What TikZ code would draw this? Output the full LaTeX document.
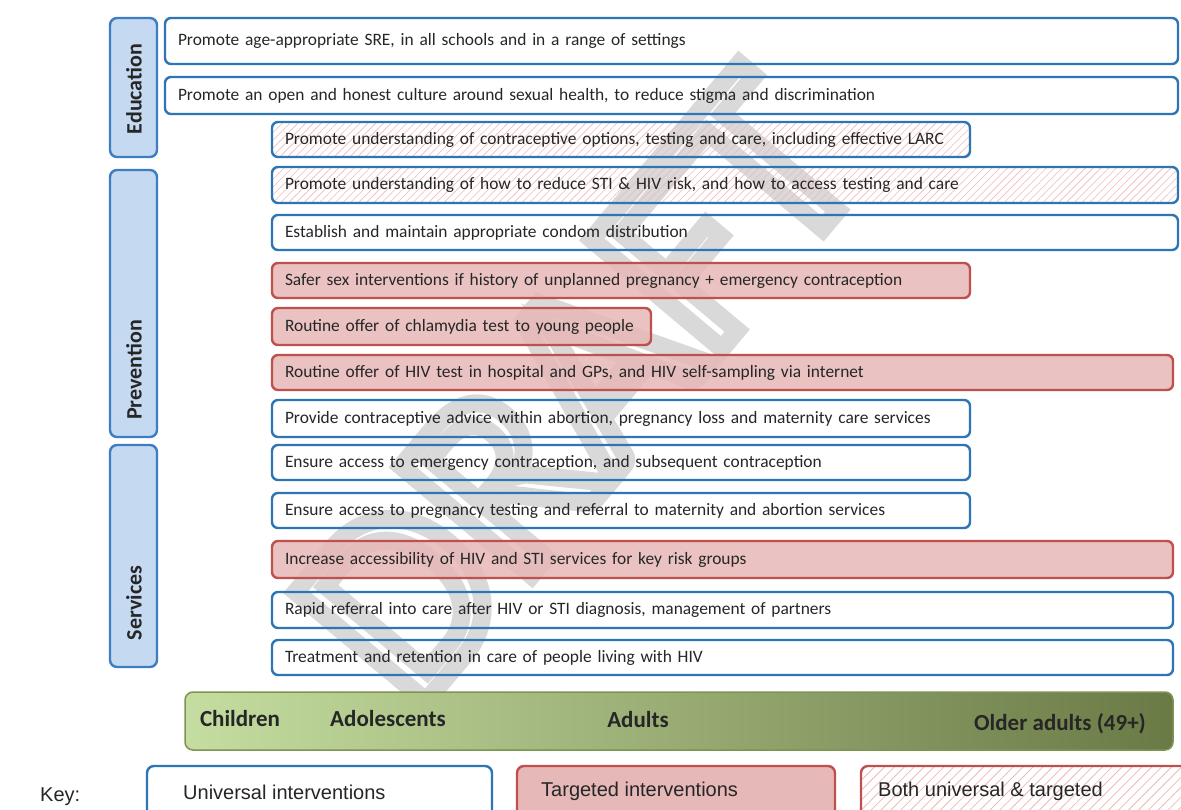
\documentclass[tikz,border=0pt]{standalone}
\usepackage{fontspec}
\setmainfont{Carlito}
\newfontfamily\arialfont{Liberation Sans}
\usetikzlibrary{patterns.meta}

\definecolor{ublue}{RGB}{46,117,182}
\definecolor{tred}{RGB}{192,80,77}
\definecolor{tfill}{RGB}{230,184,183}
\definecolor{catfill}{RGB}{197,217,241}
\definecolor{catdraw}{RGB}{60,125,195}
\definecolor{hatch}{RGB}{242,185,183}
\definecolor{wm}{RGB}{217,217,217}
\definecolor{gleft}{RGB}{197,221,160}
\definecolor{gright}{RGB}{106,122,70}
\definecolor{gborder}{RGB}{125,148,82}
\definecolor{ink}{RGB}{38,38,38}

\newcommand{\rowbox}[7]{%
  \pgfmathsetmacro\bw{#5-#3}\pgfmathsetmacro\bh{#6-#4}\pgfmathsetmacro\tw{#5-#3-26}%
  \node[#2, minimum width=\bw pt, minimum height=\bh pt, text width=\tw pt] (#1) at (#3,#4) {\mbox{#7}};}

\begin{document}
\begin{tikzpicture}[x=1pt,y=-1pt,
  box/.style={rounded corners=6pt, line width=2.4pt, anchor=north west, inner xsep=13pt, inner ysep=0pt, outer sep=0pt, align=left, font=\fontsize{17.4}{20}\selectfont, text=ink},
  ubox/.style={box, draw=ublue},
  tbox/.style={box, draw=tred, fill=tfill, fill opacity=0.85, text opacity=1},
  hbox/.style={box, draw=ublue, pattern={Lines[angle=45,distance=5.5pt,line width=0.6pt]}, pattern color=hatch},
  catbox/.style={rounded corners=7pt, line width=2.4pt, draw=catdraw, fill=catfill, anchor=north west, outer sep=0pt, minimum width=47pt},
  catlbl/.style={rotate=90, font=\fontsize{22}{24}\selectfont\bfseries, text=ink, inner sep=0pt},
  barlbl/.style={font=\fontsize{23}{25}\selectfont\bfseries, text=ink, inner sep=0pt},
  keylbl/.style={font=\arialfont\fontsize{20}{22}\selectfont, text=ink, inner sep=0pt, anchor=west},
  keybox/.style={rounded corners=7pt, line width=2.4pt, anchor=north west, outer sep=0pt, minimum height=70pt},
]
\useasboundingbox (0,0) rectangle (1181,810);
\fill[white] (0,0) rectangle (1181,810);

% watermark
\node[rotate=50, text=wm, inner sep=0pt] (wmark) at (578,388)
  {\fontsize{265}{265}\selectfont\special{pdf:literal direct 1 Tr 18 w}DRAFT\special{pdf:literal direct 0 Tr}};

% categories
\node[catbox, minimum height=139pt] (edu) at (110,18) {};
\node[catbox, minimum height=267pt] (prev) at (110,170) {};
\node[catbox, minimum height=222pt] (serv) at (110,445) {};
\node[catlbl] (edulbl) at (134,89) {Education};
\node[catlbl] (prevlbl) at (134,370) {Prevention};
\node[catlbl] (servlbl) at (134,603) {Services};

% rows
\rowbox{r1}{ubox}{165}{18}{1178}{64}{Promote age-appropriate SRE, in all schools and in a range of settings}
\rowbox{r2}{ubox}{165}{77}{1178}{114}{Promote an open and honest culture around sexual health, to reduce stigma and discrimination}
\rowbox{r3}{hbox}{272}{122}{970}{157}{Promote understanding of contraceptive options, testing and care, including effective LARC}
\rowbox{r4}{hbox}{272}{167}{1178}{203}{Promote understanding of how to reduce STI \& HIV risk, and how to access testing and care}
\rowbox{r5}{ubox}{272}{215}{1178}{250}{Establish and maintain appropriate condom distribution}
\rowbox{r6}{tbox}{272}{263}{970}{298}{Safer sex interventions if history of unplanned pregnancy + emergency contraception}
\rowbox{r7}{tbox}{272}{308}{651}{345}{Routine offer of chlamydia test to young people}
\rowbox{r8}{tbox}{272}{355}{1173}{390}{Routine offer of HIV test in hospital and GPs, and HIV self-sampling via internet}
\rowbox{r9}{ubox}{272}{400}{970}{437}{Provide contraceptive advice within abortion, pregnancy loss and maternity care services}
\rowbox{r10}{ubox}{272}{445}{970}{480}{Ensure access to emergency contraception, and subsequent contraception}
\rowbox{r11}{ubox}{272}{493}{970}{528}{Ensure access to pregnancy testing and referral to maternity and abortion services}
\rowbox{r12}{tbox}{272}{541}{1173}{578}{Increase accessibility of HIV and STI services for key risk groups}
\rowbox{r13}{ubox}{272}{592}{1173}{628}{Rapid referral into care after HIV or STI diagnosis, management of partners}
\rowbox{r14}{ubox}{272}{640}{1173}{675}{Treatment and retention in care of people living with HIV}

% age bar
\node[rounded corners=8pt, line width=1.5pt, draw=gborder, left color=gleft, right color=gright,
      anchor=north west, outer sep=0pt, minimum width=988pt, minimum height=58pt] (bar) at (185,692) {};
\node[barlbl] (children) at (240,719) {Children};
\node[barlbl] (adol) at (388,719) {Adolescents};
\node[barlbl] (adults) at (638,720) {Adults};
\node[barlbl] (older) at (1060,724) {Older adults (49+)};

% key
\node[keylbl] (key) at (40,797) {Key:};
\node[keybox, draw=ublue, minimum width=345pt] (kuni) at (147,766) {};
\node[keybox, draw=tred, fill=tfill, minimum width=318pt] (ktar) at (517,766) {};
\node[keybox, draw=tred, pattern={Lines[angle=45,distance=7pt,line width=0.8pt]}, pattern color=hatch, minimum width=340pt] (kboth) at (861,766) {};
\node[keylbl] (kunilbl) at (183,792) {Universal interventions};
\node[keylbl] (ktarlbl) at (541,791) {Targeted interventions};
\node[keylbl] (kbothlbl) at (878,791) {Both universal \& targeted};
\end{tikzpicture}
\end{document}
